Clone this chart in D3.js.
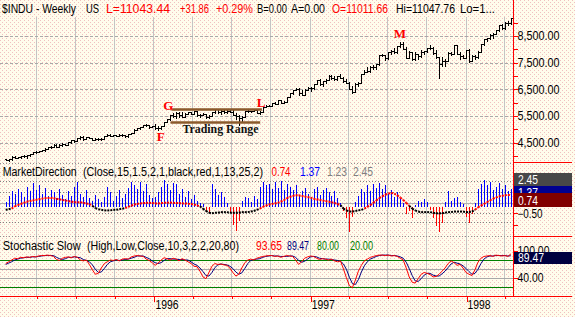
<!DOCTYPE html>
<html><head><meta charset="utf-8">
<script src="https://cdn.jsdelivr.net/npm/d3@7"></script>
<style>
html,body{margin:0;padding:0;background:#fffcec;}
svg{display:block;font-family:"Liberation Sans",Arial,sans-serif;}
</style></head><body>
<svg id="c" width="575" height="317"></svg>
<script>
// ---------------- DATA ----------------
const firstWeek = "1995-01-20";
const lastWeek  = "1998-04-17";
const open = [3880,3870,3872,3970,3937,3954,4011,3989,4035,4073,4138,4157,4192,4208,4270,4321,4343,4430,4341,4412,4445,4423,4510,4589,4556,4664,4727,4641,4715,4683,4618,4640,4639,4647,4747,4801,4767,4789,4769,4793,4794,4742,4825,4864,4989,5048,5087,5156,5176,5097,
5117,5057,5062,5120,5272,5373,5541,5503,5630,5537,5470,5584,5636,5587,5682,5532,5535,5567,5478,5518,5635,5762,5643,5697,5649,5705,5654,5550,5511,5426,5473,5680,5682,5689,5722,5616,5659,5838,5888,5872,5992,5969,6094,5992,6021,6219,6348,6472,6521,6381,6304,6484,
6560,6544,6703,6833,6696,6813,6856,6988,6931,6877,7000,6935,6804,6740,6526,6391,6703,6738,7071,7169,7194,7345,7331,7435,7782,7796,7687,7896,7921,7890,8113,8194,8031,7694,7887,7622,7822,7742,7917,7922,8038,8045,7847,7715,7442,7581,7572,7881,7823,8149,7838,7757,
7679,7965,7580,7753,7712,7907,8189,8370,8413,8546,8570,8719,8906,8797,8984,8994];
const high = [3895,3885,3985,3985,3975,4020,4025,4045,4085,4150,4175,4205,4220,4285,4330,4365,4445,4445,4440,4475,4470,4520,4595,4600,4670,4740,4735,4730,4725,4690,4660,4670,4660,4755,4810,4815,4805,4800,4810,4815,4800,4835,4875,4995,5055,5105,5165,5215,5180,5135,
5190,5110,5135,5280,5400,5550,5630,5640,5640,5650,5600,5660,5660,5690,5690,5580,5600,5590,5540,5650,5780,5775,5710,5720,5720,5720,5740,5600,5530,5490,5690,5720,5700,5740,5730,5670,5850,5905,5905,6000,6010,6100,6105,6060,6225,6360,6480,6550,6560,6460,6500,6570,
6580,6710,6845,6880,6825,6870,7020,7020,7010,7010,7090,6960,6900,6760,6620,6720,6790,7080,7230,7330,7360,7400,7450,7790,7840,7800,7900,7990,8060,8130,8260,8270,8080,7920,7900,7900,7830,7960,7950,8060,8180,8100,7980,7720,7700,7620,7900,7900,8180,8160,7900,7790,
7980,8000,7790,7790,7950,8200,8400,8420,8560,8600,8740,8920,8940,9010,9060,9190];
const low = [3845,3825,3860,3920,3925,3945,3965,3940,4020,4060,4125,4150,4185,4190,4260,4300,4340,4330,4335,4395,4405,4415,4500,4530,4545,4650,4590,4630,4665,4600,4590,4610,4595,4640,4735,4745,4750,4735,4740,4760,4700,4730,4815,4860,4975,5030,5080,5130,5050,5080,
5030,4990,5020,5110,5265,5360,5480,5440,5460,5450,5460,5570,5560,5580,5500,5470,5520,5420,5410,5510,5620,5630,5590,5630,5620,5640,5540,5400,5170,5320,5460,5650,5640,5680,5600,5560,5650,5830,5860,5860,5950,5960,5970,5990,6010,6210,6330,6460,6300,6270,6290,6470,
6420,6520,6690,6680,6640,6730,6840,6900,6860,6850,6910,6780,6720,6500,6380,6390,6640,6730,7060,7150,7150,7280,7250,7430,7740,7600,7650,7830,7870,7880,8100,8000,7680,7690,7600,7610,7640,7720,7840,7900,8020,7810,7680,6936,7380,7380,7560,7780,7810,7830,7650,7660,
7660,7530,7570,7650,7660,7890,8180,8300,8400,8440,8560,8700,8760,8780,8900,8950];
const close = [3870,3872,3970,3937,3954,4011,3989,4035,4073,4138,4157,4192,4208,4270,4321,4343,4430,4341,4412,4445,4423,4510,4589,4556,4664,4727,4641,4715,4683,4618,4640,4639,4647,4747,4801,4767,4789,4769,4793,4794,4742,4825,4864,4989,5048,5087,5156,5176,5097,5117,
5057,5062,5120,5272,5373,5541,5503,5630,5537,5470,5584,5636,5587,5682,5532,5535,5567,5478,5518,5635,5762,5643,5697,5649,5705,5654,5550,5511,5426,5473,5680,5682,5689,5722,5616,5659,5838,5888,5872,5992,5969,6094,5992,6021,6219,6348,6472,6521,6381,6304,6484,6560,
6544,6703,6833,6696,6813,6856,6988,6931,6877,7000,6935,6804,6740,6526,6391,6703,6738,7071,7169,7194,7345,7331,7435,7782,7796,7687,7896,7921,7890,8113,8194,8031,7694,7887,7622,7822,7742,7917,7922,8038,8045,7847,7715,7442,7581,7572,7881,7823,8149,7838,7757,7679,
7965,7580,7753,7712,7907,8189,8370,8413,8546,8570,8719,8906,8797,8984,8994,9167];

const mdHist = [0.5,1.0,1.4,1.2,1.6,1.3,0.9,1.8,1.4,2.1,1.5,1.9,1.2,1.7,1.0,1.5,
1.3,0.8,1.6,1.1,0.7,1.4,1.0,1.8,2.2,1.2,0.9,1.5,0.8,0.6,1.1,0.7,0.5,
0.9,1.8,1.3,0.6,1.0,1.5,0.8,1.2,1.7,2.2,1.9,
1.6,2.2,1.4,2.0,1.1,0.8,0.9,1.3,1.8,2.4,2.0,
1.5,2.1,2.0,1.2,1.6,0.9,1.4,0.7,1.1,0.6,0.4,
0.3,-0.4,-0.5,
2.0,1.6,1.1,1.3,0.9,0.4,-0.5,-1.5,-2.0,-1.2,0.6,0.9,0.8,0.5,1.0,0.7,1.8,2.2,1.9,2.0,1.6,2.2,1.7,2.3,1.5,2.0,1.8,
1.5,1.9,1.0,1.4,1.7,1.2,0.9,1.6,1.8,1.1,1.5,1.7,1.3,1.0,1.4,0.8,0.4,
-0.3,-0.9,-2.1,-0.8,
0.5,1.0,1.6,1.3,1.9,1.4,2.0,1.7,2.1,1.6,1.9,1.2,1.5,0.9,1.3,0.7,
0.4,-0.6,-0.3,-0.9,0.2,0.6,0.5,0.7,0.5,-0.2,-0.9,-1.6,-2.1,-1.3,0.5,1.4,0.6,0.8,0.9,0.5,0.3,-0.8,-1.3,-0.6,0.4,
1.6,2.0,2.4,1.9,2.2,1.5,1.8,2.1,1.6,1.9,1.4,1.6];
const mdLine = [-0.2,-0.15,-0.1,0.1,0.2,0.3,0.4,0.5,0.55,0.6,0.65,0.7,0.75,0.8,0.82,0.82,0.8,0.75,0.7,0.65,0.6,0.55,0.5,0.45,0.45,0.45,0.4,0.35,0.3,0.15,
-0.05,-0.15,-0.2,-0.25,-0.25,-0.25,-0.2,-0.2,-0.15,-0.1,-0.05,0.05,0.15,0.25,0.3,0.35,0.38,0.4,0.4,0.38,0.35,0.35,0.38,0.4,0.42,0.42,0.4,0.38,0.38,0.36,0.35,0.33,0.3,0.25,0.18,0.1,
-0.1,-0.3,-0.45,-0.5,-0.45,-0.45,-0.4,-0.4,-0.4,-0.45,-0.45,-0.45,-0.45,-0.4,-0.4,-0.4,-0.35,-0.3,-0.2,-0.1,0.05,0.15,0.25,0.3,0.35,0.4,0.5,
0.6,0.8,0.9,1.0,1.05,1.05,1.0,0.95,0.9,0.85,0.75,0.7,0.65,0.6,0.55,0.5,0.45,0.4,0.3,0.2,
-0.1,-0.25,-0.35,-0.35,-0.3,-0.25,-0.2,-0.1,0.05,
0.2,0.4,0.6,0.8,0.95,1.1,1.2,1.25,1.2,1.05,0.85,0.65,0.4,0.15,
-0.1,-0.25,-0.35,-0.4,-0.4,-0.4,-0.4,-0.45,-0.5,-0.5,-0.5,-0.45,-0.4,-0.4,-0.35,-0.35,-0.35,-0.35,-0.4,-0.4,-0.35,-0.2,
0.0,0.15,0.3,0.45,0.6,0.75,0.85,0.95,1.0,1.05,1.07,1.07];

const stochK = [72,76,80,84,83,86,85,87,86,88,87,89,90,90,91,90,88,81,79,84,86,87,85,88,86,80,78,80,70,58,
48,50,62,72,76,80,79,81,78,82,83,82,87,89,90,89,88,82,79,74,68,73,80,85,83,80,84,82,78,83,
80,76,72,66,65,55,42,38,52,66,72,70,71,69,68,62,52,44,48,62,74,80,82,80,84,86,88,89,90,90,
88,89,86,88,90,89,88,80,70,76,84,87,89,88,84,81,83,82,80,82,78,76,78,60,40,22,18,35,55,68,
78,82,86,88,90,91,91,90,91,89,90,88,84,80,62,42,30,28,38,48,52,50,47,42,43,48,55,62,72,78,
74,68,70,62,52,48,45,58,75,84,88,89,90,88,91,90,89,90,88,93.65];
const stochD = [70,73,76,80,82,84,85,86,86,87,87,88,89,90,90,90,90,86,83,81,83,86,86,87,86,85,81,79,76,69,
59,52,53,61,70,76,78,80,79,80,81,82,84,86,89,89,89,86,83,78,74,72,74,79,83,83,82,82,81,81,
80,80,76,71,68,62,54,45,44,52,63,69,71,70,69,66,61,53,48,51,61,72,79,81,82,83,86,88,89,90,
89,89,88,88,88,89,89,86,79,75,77,82,87,88,87,84,83,82,82,81,80,79,77,71,59,41,27,25,36,53,
67,76,82,85,88,90,91,91,91,90,90,89,87,84,75,61,45,33,32,38,46,50,50,46,44,44,49,55,63,71,
75,73,71,67,61,54,48,50,59,72,82,87,89,89,90,90,90,90,89,89.47];

const priceTicks  = [4000,4500,5000,5500,6000,6500,7000,7500,8000,8500,9000];
const priceLabels = [4500,5500,6500,7500,8500];
const mdTicks = [2.5,1.5,0.5,-0.5,-1.5];
const mdTickLabels = [-0.5];
const mdDotted = [2.3,1.37,-0.5,-1.25];
const mdSolid = [0.36];
const stochTicks = [100,40];
const stochGray = [40,60];
const stochBands = [20,80];

const headerTexts = ["$INDU - Weekly","US","L=11043.44","+31.86","+0.29%","B=0.00","A=0.00","O=11011.66","Hi=11047.76","Lo=1..."];
const mdTitle = ["MarketDirection","(Close,15,1.5,2,1,black,red,1,13,25,2)"];
const mdValues = [0.74,1.37,1.23,2.45];
const stTitle = ["Stochastic Slow","(High,Low,Close,10,3,2,2,20,80)"];
const stValues = [93.65,89.47,80.00,20.00];

const annText   = ["F","G","L","M"];
const annDate   = ["1996-01-18","1996-02-05","1996-09-09","1997-07-31"];
const annPrice  = [4567,5728,5841,8414];
const rangeLabel = "Trading Range";
const rangeLabelDate = "1996-06-06";
const rangeLabelPrice = 4867;
const rangeStart = ["1996-02-12","1996-02-10"];
const rangeEnd   = ["1996-09-11","1996-09-07"];
const rangePrice = [5747,5253];

// ---------------- DRAW ----------------
const svg = d3.select("#c");
const defs = svg.append("defs");
const pat = defs.append("pattern").attr("id","bg").attr("width",4).attr("height",4).attr("patternUnits","userSpaceOnUse");
pat.append("rect").attr("width",4).attr("height",4).attr("fill","#fffcec");
pat.append("rect").attr("x",0).attr("y",0).attr("width",1).attr("height",1).attr("fill","#f0c0c0");
pat.append("rect").attr("x",2).attr("y",2).attr("width",1).attr("height",1).attr("fill","#f0c0c0");
svg.append("rect").attr("width",575).attr("height",317).attr("fill","url(#bg)");

const parse = d3.timeParse("%Y-%m-%d");
const weeks = d3.timeFriday.range(parse(firstWeek), d3.timeDay.offset(parse(lastWeek),1));
const N = Math.min(weeks.length, close.length);
const PX = 513;
const x  = d3.scaleTime().domain([parse("1995-04-01"), parse("1998-04-01")]).range([36,504]);
const yP = d3.scaleLinear().domain([4500,8500]).range([142.7,36]);
const yM = d3.scaleLinear().domain([-0.5,2.45]).range([213.3,179]);
const yS = d3.scaleLinear().domain([20,80]).range([286.7,260]);
const R = Math.round;

function txt(g, s, xx, yy, w, col, opts={}){
  const t = g.append("text").attr("x",xx).attr("y",yy).text(s).attr("fill",col)
    .attr("font-size",opts.size||12);
  if (w) t.attr("textLength",w).attr("lengthAdjust","spacingAndGlyphs");
  if (opts.weight) t.attr("font-weight",opts.weight);
  if (opts.family) t.attr("font-family",opts.family);
  if (opts.anchor) t.attr("text-anchor",opts.anchor);
  return t;
}

// grids
const grid = svg.append("g").attr("shape-rendering","crispEdges");
const quarters = d3.timeMonth.every(3).range(parse("1995-04-01"), parse("1998-04-02"));
grid.selectAll("line.vq").data(quarters).join("line")
  .attr("x1",d=>R(x(d))+0.5).attr("x2",d=>R(x(d))+0.5).attr("y1",17).attr("y2",296)
  .attr("stroke","#c4c4c4");
grid.selectAll("line.hp").data(priceLabels).join("line")
  .attr("x1",0).attr("x2",PX).attr("y1",d=>R(yP(d))+0.5).attr("y2",d=>R(yP(d))+0.5)
  .attr("stroke","#a8a8a8").attr("stroke-dasharray","3,2");
grid.selectAll("line.sep").data([163,236]).join("line")
  .attr("x1",0).attr("x2",PX).attr("y1",d=>d+0.5).attr("y2",d=>d+0.5)
  .attr("stroke","#909090").attr("stroke-dasharray","1,2");
grid.selectAll("line.md").data(mdDotted).join("line")
  .attr("x1",0).attr("x2",PX).attr("y1",d=>R(yM(d))+0.5).attr("y2",d=>R(yM(d))+0.5)
  .attr("stroke","#808080").attr("stroke-dasharray","1,2");
grid.selectAll("line.ms").data(mdSolid).join("line")
  .attr("x1",0).attr("x2",PX).attr("y1",d=>R(yM(d))+0.5).attr("y2",d=>R(yM(d))+0.5)
  .attr("stroke","#b0b0b0");
grid.selectAll("line.sg").data(stochGray).join("line")
  .attr("x1",0).attr("x2",PX).attr("y1",d=>R(yS(d))+0.5).attr("y2",d=>R(yS(d))+0.5)
  .attr("stroke","#a8a8a8");
grid.selectAll("line.sb").data(stochBands).join("line")
  .attr("x1",0).attr("x2",PX).attr("y1",d=>R(yS(d))+0.5).attr("y2",d=>R(yS(d))+0.5)
  .attr("stroke","#008000");

// price bars
const idx = d3.range(N);
const bars = svg.append("g").attr("fill","#000").attr("shape-rendering","crispEdges");
bars.selectAll("rect.v").data(idx).join("rect")
  .attr("x",i=>R(x(weeks[i]))).attr("width",1)
  .attr("y",i=>R(yP(high[i]))).attr("height",i=>Math.max(1,R(yP(low[i]))-R(yP(high[i]))+1));
bars.selectAll("rect.o").data(idx).join("rect")
  .attr("x",i=>R(x(weeks[i]))-1).attr("width",1)
  .attr("y",i=>R(yP(open[i]))).attr("height",1);
bars.selectAll("rect.c").data(idx).join("rect")
  .attr("x",i=>R(x(weeks[i]))+1).attr("width",1)
  .attr("y",i=>R(yP(close[i]))).attr("height",1);

// trading range annotation
const ann = svg.append("g");
ann.selectAll("line.rng").data(rangePrice).join("line")
  .attr("x1",(d,i)=>x(parse(rangeStart[i]))).attr("x2",(d,i)=>x(parse(rangeEnd[i])))
  .attr("y1",d=>yP(d)).attr("y2",d=>yP(d))
  .attr("stroke","#8b5a2b").attr("stroke-width",2.5);
txt(ann, rangeLabel, x(parse(rangeLabelDate)), yP(rangeLabelPrice), 76, "#111",
  {size:12.5, weight:"bold", family:"'Liberation Serif','Times New Roman',serif", anchor:"middle"});
annText.forEach((t,i)=>{
  txt(ann, t, x(parse(annDate[i])), yP(annPrice[i]), null, "#ff0000",
    {size:13, weight:"bold", family:"'Liberation Serif','Times New Roman',serif", anchor:"middle"});
});

// MarketDirection histogram
const mg = svg.append("g").attr("shape-rendering","crispEdges");
const y0 = R(yM(0));
mg.selectAll("rect").data(idx).join("rect")
  .attr("x",i=>R(x(weeks[i]))).attr("width",1)
  .attr("y",i=>Math.min(y0,R(yM(mdHist[i]))))
  .attr("height",i=>Math.max(1,Math.abs(R(yM(mdHist[i]))-y0)))
  .attr("fill",i=>mdHist[i]>=0?"#0000ff":"#ff0000");
// signal line (dotted, red above zero, black below)
const ml = svg.append("g");
ml.selectAll("line").data(idx.slice(1)).join("line")
  .attr("x1",i=>x(weeks[i-1])).attr("x2",i=>x(weeks[i]))
  .attr("y1",i=>yM(mdLine[i-1])).attr("y2",i=>yM(mdLine[i]))
  .attr("stroke",i=>mdLine[i]>=0?"#ff0000":"#000000")
  .attr("stroke-width",2).attr("stroke-dasharray","2,1");

// Stochastic
const line = d3.line().x((d,i)=>x(weeks[i])).y(d=>yS(d));
svg.append("path").datum(stochD.slice(0,N)).attr("d",line).attr("fill","none").attr("stroke","#000080").attr("stroke-width",1);
svg.append("path").datum(stochK.slice(0,N)).attr("d",line).attr("fill","none").attr("stroke","#ff0000").attr("stroke-width",1);

// axes
function styleAxis(g){
  g.select(".domain").remove();
  g.selectAll(".tick line").attr("stroke","#ff0000").attr("shape-rendering","crispEdges");
  g.selectAll(".tick text").attr("fill","#000").attr("font-size",12)
    .attr("font-family","'Liberation Sans',Arial,sans-serif");
}
const aP = svg.append("g").attr("transform",`translate(${PX+0.5},0)`)
  .call(d3.axisRight(yP).tickValues(priceTicks).tickSize(4).tickPadding(0)
    .tickFormat(d=>priceLabels.includes(d)?d3.format(",.2f")(d):""));
styleAxis(aP);
aP.selectAll(".tick text").filter(function(){return this.textContent;}).attr("textLength",42).attr("lengthAdjust","spacingAndGlyphs");

const aM = svg.append("g").attr("transform",`translate(${PX+0.5},0)`)
  .call(d3.axisRight(yM).tickValues(mdTicks).tickSize(4).tickPadding(0)
    .tickFormat(d=>mdTickLabels.includes(d)?d3.format(".2f")(d):""));
styleAxis(aM);
aM.selectAll(".tick text").filter(function(){return this.textContent;}).attr("textLength",25).attr("lengthAdjust","spacingAndGlyphs");

const aS = svg.append("g").attr("transform",`translate(${PX+0.5},0)`)
  .call(d3.axisRight(yS).tickValues(stochTicks).tickSize(4).tickPadding(0)
    .tickFormat(d3.format(".2f")));
styleAxis(aS);
aS.selectAll(".tick text").attr("textLength",d=>d>=100?32:26).attr("lengthAdjust","spacingAndGlyphs");

const aX = svg.append("g").attr("transform","translate(0,296)")
  .call(d3.axisBottom(x).tickValues(quarters).tickSize(3).tickSizeOuter(0)
    .tickFormat(d=>d.getMonth()===0?d3.timeFormat("%Y")(d):""));
aX.select(".domain").remove();
aX.selectAll(".tick line").attr("stroke","#ff0000").attr("shape-rendering","crispEdges")
  .attr("transform",function(d){return `translate(${R(x(d))+0.5-x(d)},0)`;})
  .attr("y2",d=>d.getMonth()===0?6:3);
aX.selectAll(".tick text").attr("text-anchor","start").attr("x",1.5).attr("y",13).attr("dy",null)
  .attr("fill","#000").attr("font-size",12).attr("textLength",23).attr("lengthAdjust","spacingAndGlyphs");

// red frame lines
const fr = svg.append("g").attr("stroke","#ff0000").attr("shape-rendering","crispEdges");
fr.append("line").attr("x1",PX+0.5).attr("x2",PX+0.5).attr("y1",0).attr("y2",297);
fr.append("line").attr("x1",0).attr("x2",572).attr("y1",296.5).attr("y2",296.5);
fr.selectAll("line.ph").data([162,236]).join("line").attr("x1",PX).attr("x2",572).attr("y1",d=>d+0.5).attr("y2",d=>d+0.5);

// value boxes
const bx = svg.append("g").attr("shape-rendering","crispEdges");
function box(yy, top, h, fill, s, w){
  bx.append("rect").attr("x",PX+1).attr("y",top).attr("width",58).attr("height",h).attr("fill",fill);
  txt(bx, s, 518, top+h-2.5, w, "#ffffff");
}
box(yM(mdValues[3]), R(yM(mdValues[3]))-6, 13, "#484848", d3.format(".2f")(mdValues[3]), 20);
box(yM(mdValues[1]), R(yM(mdValues[1]))-6, 13, "#000090", d3.format(".2f")(mdValues[1]), 20);
box(yM(mdValues[0]), R(yM(mdValues[0]))-6, 14, "#800000", d3.format(".2f")(mdValues[0]), 20);
box(yS(stValues[1]), R(yS(stValues[1]))-4, 12, "#000040", d3.format(".2f")(stValues[1]), 26);

// header texts
const hd = svg.append("g");
const hdLayout = [[2,74,"#000"],[86,13,"#000"],[106,64,"#ff0000"],[180,29,"#ff0000"],[216,37,"#ff0000"],[257,30,"#000"],[291,34,"#000"],[332,56,"#ff0000"],[396,59,"#000"],[460,35,"#000"]];
headerTexts.forEach((s,i)=>txt(hd, s, hdLayout[i][0], 13, hdLayout[i][1], hdLayout[i][2]));
txt(hd, mdTitle[0], 2.7, 176, 74, "#000");
txt(hd, mdTitle[1], 83, 176, 180, "#000");
const mdLay = [[271.5,19,"#ff0000"],[300,20,"#0000ff"],[327,20,"#808080"],[353,20,"#808080"]];
mdValues.forEach((v,i)=>txt(hd, d3.format(".2f")(v), mdLay[i][0], 176, mdLay[i][1], mdLay[i][2]));
txt(hd, stTitle[0], 2.7, 250, 78, "#000");
txt(hd, stTitle[1], 87, 250, 152, "#000");
const stLay = [[256,26,"#ff0000"],[287,22,"#000080"],[317,22,"#008000"],[350,23,"#008000"]];
stValues.forEach((v,i)=>txt(hd, d3.format(".2f")(v), stLay[i][0], 250, stLay[i][1], stLay[i][2]));
</script>
</body></html>
